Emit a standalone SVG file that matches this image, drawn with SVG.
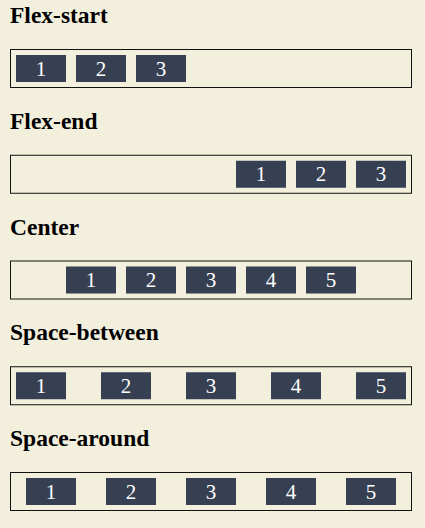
<svg xmlns="http://www.w3.org/2000/svg" width="425" height="528" viewBox="0 0 425 528">
<style>
.h{font-family:"Liberation Serif","Times New Roman",serif;font-weight:bold;font-size:23.5px;fill:#000}
.c{fill:none;stroke:#111;stroke-width:1}
.b{fill:#374052}
.n{font-family:"Liberation Serif","Times New Roman",serif;font-size:21px;fill:#fff;text-anchor:middle}
</style>
<rect width="425" height="528" fill="#f3efdd"/>
<g id="flex-start">
<text class="h" x="10" y="23">Flex-start</text>
<rect class="c" x="10.5" y="49.5" width="401" height="38"/>
<rect class="b" x="16" y="55" width="50" height="27"/><text class="n" x="41" y="75.5">1</text>
<rect class="b" x="76" y="55" width="50" height="27"/><text class="n" x="101" y="75.5">2</text>
<rect class="b" x="136" y="55" width="50" height="27"/><text class="n" x="161" y="75.5">3</text>
</g>
<g id="flex-end">
<text class="h" x="10" y="128.5">Flex-end</text>
<rect class="c" x="10.5" y="155.25" width="401" height="38"/>
<rect class="b" x="236" y="160.75" width="50" height="27"/><text class="n" x="261" y="181.25">1</text>
<rect class="b" x="296" y="160.75" width="50" height="27"/><text class="n" x="321" y="181.25">2</text>
<rect class="b" x="356" y="160.75" width="50" height="27"/><text class="n" x="381" y="181.25">3</text>
</g>
<g id="center">
<text class="h" x="10" y="234.5">Center</text>
<rect class="c" x="10.5" y="261" width="401" height="38"/>
<rect class="b" x="66" y="266.5" width="50" height="27"/><text class="n" x="91" y="287">1</text>
<rect class="b" x="126" y="266.5" width="50" height="27"/><text class="n" x="151" y="287">2</text>
<rect class="b" x="186" y="266.5" width="50" height="27"/><text class="n" x="211" y="287">3</text>
<rect class="b" x="246" y="266.5" width="50" height="27"/><text class="n" x="271" y="287">4</text>
<rect class="b" x="306" y="266.5" width="50" height="27"/><text class="n" x="331" y="287">5</text>
</g>
<g id="space-between">
<text class="h" x="10" y="340.25">Space-between</text>
<rect class="c" x="10.5" y="366.75" width="401" height="38"/>
<rect class="b" x="16" y="372.25" width="50" height="27"/><text class="n" x="41" y="392.75">1</text>
<rect class="b" x="101" y="372.25" width="50" height="27"/><text class="n" x="126" y="392.75">2</text>
<rect class="b" x="186" y="372.25" width="50" height="27"/><text class="n" x="211" y="392.75">3</text>
<rect class="b" x="271" y="372.25" width="50" height="27"/><text class="n" x="296" y="392.75">4</text>
<rect class="b" x="356" y="372.25" width="50" height="27"/><text class="n" x="381" y="392.75">5</text>
</g>
<g id="space-around">
<text class="h" x="10" y="446">Space-around</text>
<rect class="c" x="10.5" y="472.5" width="401" height="38"/>
<rect class="b" x="26" y="478" width="50" height="27"/><text class="n" x="51" y="498.5">1</text>
<rect class="b" x="106" y="478" width="50" height="27"/><text class="n" x="131" y="498.5">2</text>
<rect class="b" x="186" y="478" width="50" height="27"/><text class="n" x="211" y="498.5">3</text>
<rect class="b" x="266" y="478" width="50" height="27"/><text class="n" x="291" y="498.5">4</text>
<rect class="b" x="346" y="478" width="50" height="27"/><text class="n" x="371" y="498.5">5</text>
</g>
</svg>
